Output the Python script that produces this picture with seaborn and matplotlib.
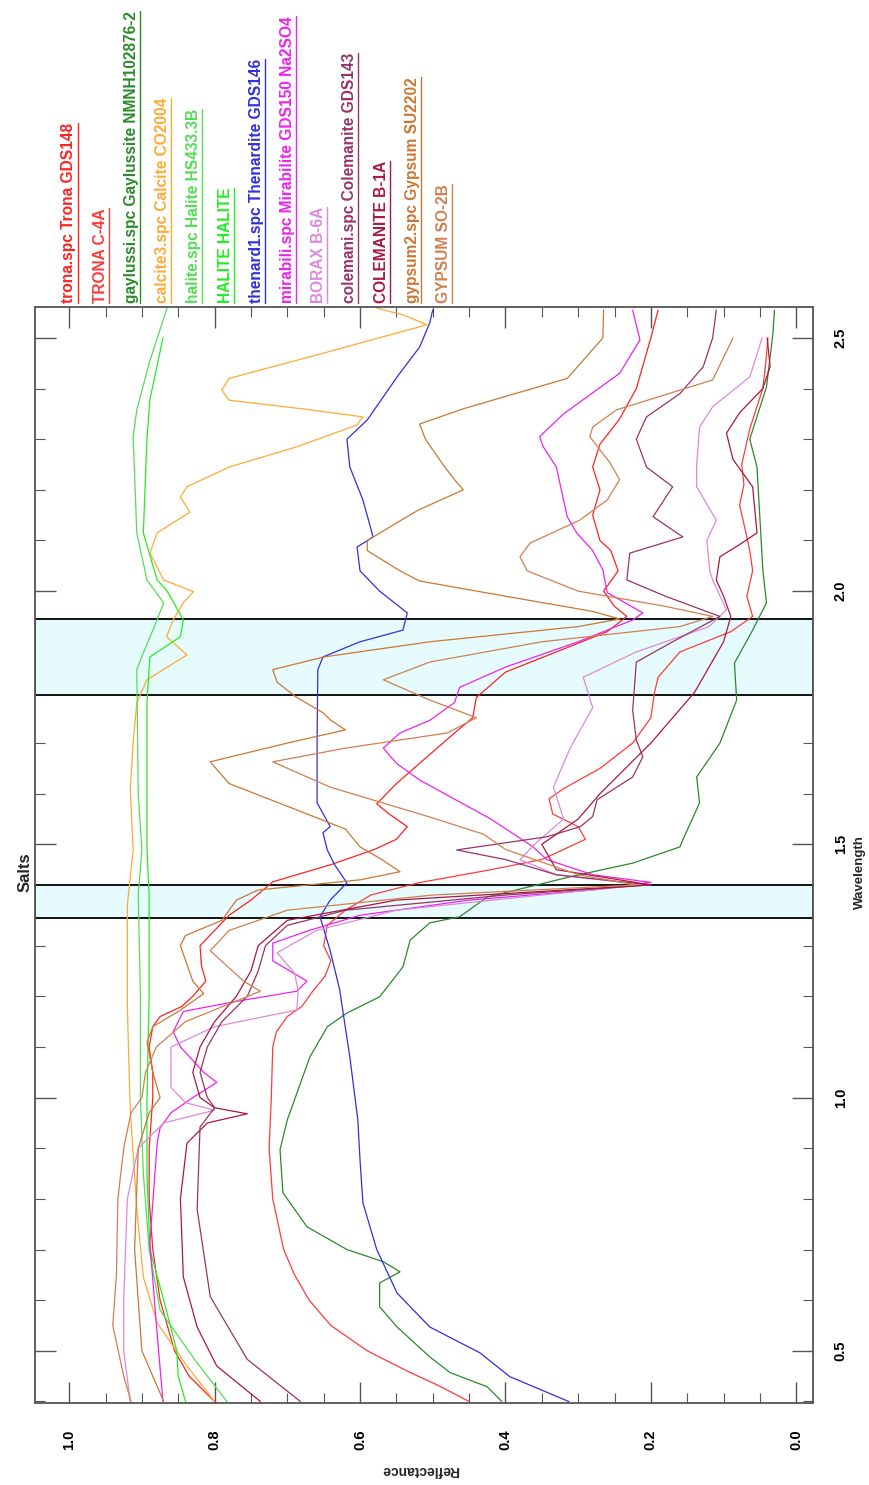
import numpy as np
import pandas as pd
import matplotlib
matplotlib.use("Agg")
import matplotlib.pyplot as plt
from matplotlib.ticker import MultipleLocator
from matplotlib.lines import Line2D
import seaborn as sns

# ---------------------------------------------------------------------------
# Reflectance spectra of salt minerals (wavelength in micrometres)
# ---------------------------------------------------------------------------
trona_gds148_wl = [0.40, 0.45, 0.50, 0.60, 0.70, 0.80, 0.90, 1.00, 1.05, 1.10,
                   1.14, 1.16, 1.18, 1.20, 1.23, 1.26, 1.30, 1.33, 1.36, 1.39,
                   1.426, 1.46, 1.49, 1.51, 1.535, 1.56, 1.58, 1.62, 1.67, 1.72,
                   1.75, 1.79, 1.84, 1.88, 1.92, 1.95, 1.97, 2.00, 2.04, 2.08,
                   2.10, 2.15, 2.20, 2.245, 2.29, 2.34, 2.40, 2.45, 2.50, 2.555]
trona_gds148_refl = [0.80, 0.835, 0.855, 0.875, 0.885, 0.89, 0.89, 0.885, 0.885, 0.89,
                     0.885, 0.875, 0.845, 0.83, 0.812, 0.818, 0.82, 0.80, 0.78, 0.75,
                     0.72, 0.64, 0.58, 0.55, 0.535, 0.56, 0.577, 0.55, 0.51, 0.47,
                     0.445, 0.44, 0.40, 0.33, 0.26, 0.233, 0.25, 0.265, 0.245, 0.255,
                     0.27, 0.28, 0.27, 0.28, 0.27, 0.243, 0.22, 0.21, 0.20, 0.19]

trona_c4a_wl = [0.40, 0.43, 0.46, 0.50, 0.55, 0.60, 0.65, 0.70, 0.80, 0.90,
                1.00, 1.10, 1.13, 1.16, 1.18, 1.21, 1.24, 1.27, 1.30, 1.34,
                1.37, 1.40, 1.424, 1.45, 1.47, 1.51, 1.535, 1.56, 1.59, 1.61,
                1.65, 1.70, 1.75, 1.80, 1.83, 1.88, 1.92, 1.95, 1.99, 2.04,
                2.08, 2.12, 2.17, 2.21, 2.25, 2.32, 2.40, 2.45, 2.50]
trona_c4a_refl = [0.45, 0.49, 0.535, 0.59, 0.64, 0.67, 0.69, 0.705, 0.72, 0.725,
                  0.722, 0.72, 0.715, 0.70, 0.68, 0.665, 0.648, 0.64, 0.65, 0.645,
                  0.62, 0.585, 0.52, 0.42, 0.35, 0.29, 0.30, 0.335, 0.34, 0.32,
                  0.27, 0.225, 0.20, 0.195, 0.19, 0.16, 0.09, 0.06, 0.068, 0.06,
                  0.064, 0.07, 0.078, 0.072, 0.075, 0.064, 0.046, 0.042, 0.039]

gaylussite_wl = [0.40, 0.429, 0.457, 0.488, 0.547, 0.587, 0.634, 0.656, 0.676, 0.70,
                 0.745, 0.812, 0.897, 0.956, 1.08, 1.14, 1.167, 1.199, 1.258, 1.311,
                 1.345, 1.357, 1.396, 1.436, 1.463, 1.495, 1.509, 1.582, 1.633, 1.70,
                 1.785, 1.858, 1.923, 1.977, 2.042, 2.245, 2.30, 2.403, 2.51, 2.555]
gaylussite_refl = [0.405, 0.425, 0.476, 0.504, 0.549, 0.573, 0.573, 0.545, 0.568, 0.618,
                   0.673, 0.706, 0.71, 0.70, 0.669, 0.645, 0.618, 0.573, 0.541, 0.531,
                   0.504, 0.463, 0.425, 0.311, 0.225, 0.16, 0.156, 0.133, 0.137, 0.105,
                   0.082, 0.085, 0.06, 0.041, 0.046, 0.054, 0.064, 0.041, 0.032, 0.03]

calcite_wl = [0.40, 0.47, 0.555, 0.646, 0.78, 0.976, 1.18, 1.38, 1.49, 1.61,
              1.70, 1.78, 1.825, 1.874, 1.91, 1.943, 1.977, 1.999, 2.022, 2.075,
              2.115, 2.156, 2.186, 2.206, 2.245, 2.285, 2.328, 2.344, 2.36, 2.377,
              2.397, 2.42, 2.47, 2.526, 2.545, 2.559]
calcite_refl = [0.80, 0.838, 0.879, 0.898, 0.907, 0.916, 0.92, 0.92, 0.912, 0.916,
                0.912, 0.907, 0.893, 0.838, 0.866, 0.857, 0.843, 0.829, 0.87, 0.889,
                0.879, 0.834, 0.847, 0.838, 0.78, 0.687, 0.604, 0.596, 0.68, 0.78,
                0.79, 0.78, 0.65, 0.508, 0.54, 0.577]

halite_hs433_wl = [0.40, 0.476, 0.58, 0.70, 0.85, 1.0, 1.2, 1.4, 1.49, 1.6,
                   1.845, 1.878, 1.94, 1.977, 2.022, 2.115, 2.305, 2.358, 2.45, 2.561]
halite_hs433_refl = [0.783, 0.824, 0.875, 0.89, 0.898, 0.902, 0.902, 0.905, 0.90, 0.905,
                     0.907, 0.898, 0.88, 0.87, 0.893, 0.907, 0.912, 0.907, 0.89, 0.865]

halite_jpl_wl = [0.40, 0.45, 0.50, 0.60, 0.70, 0.85, 1.0, 1.2, 1.4, 1.49,
                 1.78, 1.87, 1.91, 1.943, 2.002, 2.022, 2.115, 2.30, 2.378, 2.50]
halite_jpl_refl = [0.84, 0.85, 0.852, 0.87, 0.889, 0.893, 0.893, 0.89, 0.89, 0.893,
                   0.893, 0.889, 0.847, 0.843, 0.866, 0.879, 0.898, 0.893, 0.889, 0.871]

thenardite_wl = [0.40, 0.449, 0.496, 0.547, 0.614, 0.70, 0.792, 0.877, 0.956, 1.08,
                 1.213, 1.29, 1.357, 1.39, 1.424, 1.46, 1.489, 1.523, 1.535, 1.582,
                 1.712, 1.845, 1.87, 1.90, 1.923, 1.957, 2.00, 2.04, 2.087, 2.107,
                 2.18, 2.245, 2.30, 2.338, 2.423, 2.482, 2.53, 2.555]
thenardite_refl = [0.313, 0.394, 0.435, 0.504, 0.549, 0.577, 0.596, 0.60, 0.603, 0.614,
                   0.628, 0.641, 0.655, 0.641, 0.618, 0.635, 0.645, 0.651, 0.641, 0.659,
                   0.659, 0.658, 0.651, 0.60, 0.541, 0.535, 0.573, 0.60, 0.604, 0.582,
                   0.596, 0.614, 0.618, 0.59, 0.549, 0.518, 0.504, 0.50]

mirabilite_wl = [0.40, 0.55, 0.713, 0.91, 0.94, 0.97, 1.00, 1.03, 1.05, 1.10,
                 1.13, 1.17, 1.19, 1.21, 1.23, 1.27, 1.305, 1.33, 1.36, 1.39,
                 1.41, 1.425, 1.44, 1.47, 1.495, 1.55, 1.627, 1.66, 1.69, 1.72,
                 1.745, 1.78, 1.81, 1.85, 1.90, 1.943, 1.957, 1.997, 2.042, 2.08,
                 2.115, 2.147, 2.245, 2.285, 2.305, 2.35, 2.43, 2.496, 2.555]
mirabilite_refl = [0.871, 0.88, 0.889, 0.879, 0.875, 0.86, 0.83, 0.797, 0.815, 0.847,
                   0.857, 0.843, 0.77, 0.687, 0.673, 0.72, 0.72, 0.67, 0.60, 0.45,
                   0.28, 0.20, 0.28, 0.343, 0.362, 0.42, 0.518, 0.55, 0.568, 0.545,
                   0.504, 0.47, 0.463, 0.40, 0.30, 0.225, 0.211, 0.26, 0.266, 0.28,
                   0.302, 0.315, 0.33, 0.348, 0.353, 0.32, 0.243, 0.215, 0.225]

borax_wl = [0.40, 0.50, 0.60, 0.80, 0.90, 0.95, 0.975, 0.99, 1.02, 1.10,
            1.14, 1.173, 1.21, 1.246, 1.286, 1.33, 1.37, 1.40, 1.42, 1.44,
            1.47, 1.50, 1.55, 1.613, 1.69, 1.77, 1.83, 1.88, 1.93, 1.963,
            2.022, 2.04, 2.10, 2.14, 2.206, 2.25, 2.324, 2.364, 2.423, 2.50]
borax_refl = [0.916, 0.925, 0.925, 0.92, 0.905, 0.87, 0.80, 0.84, 0.86, 0.86,
              0.80, 0.687, 0.685, 0.69, 0.714, 0.66, 0.55, 0.35, 0.21, 0.33,
              0.38, 0.36, 0.32, 0.334, 0.311, 0.28, 0.293, 0.22, 0.12, 0.096,
              0.115, 0.119, 0.123, 0.11, 0.137, 0.137, 0.133, 0.115, 0.064, 0.047]

colemanite_gds143_wl = [0.40, 0.483, 0.607, 0.78, 0.942, 0.98, 1.0, 1.05, 1.10, 1.15,
                        1.20, 1.25, 1.30, 1.34, 1.37, 1.40, 1.42, 1.44, 1.47, 1.489,
                        1.515, 1.535, 1.555, 1.588, 1.633, 1.673, 1.706, 1.765, 1.86, 1.90,
                        1.95, 1.99, 2.022, 2.075, 2.107, 2.147, 2.206, 2.245, 2.30, 2.344,
                        2.39, 2.443, 2.50, 2.555]
colemanite_gds143_refl = [0.682, 0.755, 0.806, 0.824, 0.82, 0.80, 0.81, 0.82, 0.81, 0.79,
                          0.755, 0.74, 0.73, 0.70, 0.62, 0.40, 0.20, 0.33, 0.40, 0.467,
                          0.343, 0.297, 0.28, 0.274, 0.225, 0.211, 0.22, 0.225, 0.22, 0.17,
                          0.105, 0.18, 0.233, 0.229, 0.156, 0.197, 0.17, 0.206, 0.22, 0.206,
                          0.16, 0.128, 0.115, 0.11]

colemanite_b1a_wl = [0.40, 0.47, 0.547, 0.646, 0.80, 0.91, 0.95, 0.968, 0.98, 1.0,
                     1.05, 1.10, 1.15, 1.20, 1.25, 1.30, 1.35, 1.39, 1.42, 1.45,
                     1.50, 1.55, 1.60, 1.70, 1.80, 1.85, 1.90, 1.95, 1.99, 2.022,
                     2.068, 2.09, 2.115, 2.206, 2.26, 2.312, 2.352, 2.40, 2.443, 2.50]
colemanite_b1a_refl = [0.737, 0.797, 0.824, 0.843, 0.847, 0.838, 0.81, 0.755, 0.80, 0.82,
                       0.83, 0.82, 0.80, 0.77, 0.75, 0.74, 0.70, 0.55, 0.20, 0.33,
                       0.35, 0.30, 0.27, 0.20, 0.14, 0.12, 0.10, 0.09, 0.10, 0.11,
                       0.105, 0.08, 0.054, 0.06, 0.087, 0.096, 0.078, 0.046, 0.036, 0.04]

gypsum_su2202_wl = [0.40, 0.50, 0.70, 0.90, 0.97, 1.0, 1.05, 1.11, 1.14, 1.17,
                    1.205, 1.23, 1.30, 1.32, 1.35, 1.39, 1.41, 1.43, 1.446, 1.47,
                    1.495, 1.53, 1.568, 1.62, 1.663, 1.70, 1.726, 1.746, 1.76, 1.79,
                    1.82, 1.845, 1.87, 1.90, 1.93, 1.945, 1.96, 1.99, 2.02, 2.04,
                    2.08, 2.10, 2.16, 2.20, 2.22, 2.25, 2.30, 2.33, 2.36, 2.42,
                    2.50, 2.555]
gypsum_su2202_refl = [0.87, 0.90, 0.91, 0.905, 0.89, 0.875, 0.885, 0.893, 0.885, 0.85,
                      0.815, 0.83, 0.847, 0.84, 0.79, 0.77, 0.74, 0.60, 0.545, 0.57,
                      0.60, 0.62, 0.687, 0.78, 0.806, 0.70, 0.62, 0.641, 0.651, 0.687,
                      0.714, 0.72, 0.65, 0.504, 0.30, 0.243, 0.28, 0.40, 0.518, 0.545,
                      0.59, 0.59, 0.52, 0.458, 0.47, 0.486, 0.51, 0.518, 0.458, 0.315,
                      0.266, 0.265]

gypsum_so2b_wl = [0.40, 0.45, 0.55, 0.65, 0.80, 0.90, 0.97, 1.0, 1.05, 1.10,
                  1.15, 1.21, 1.23, 1.29, 1.33, 1.37, 1.40, 1.42, 1.44, 1.47,
                  1.49, 1.52, 1.554, 1.613, 1.663, 1.69, 1.72, 1.75, 1.785, 1.825,
                  1.86, 1.90, 1.93, 1.95, 1.97, 2.0, 2.04, 2.068, 2.095, 2.14,
                  2.18, 2.22, 2.253, 2.305, 2.324, 2.358, 2.417, 2.50]
gypsum_so2b_refl = [0.915, 0.925, 0.94, 0.935, 0.933, 0.925, 0.915, 0.90, 0.895, 0.88,
                    0.84, 0.737, 0.76, 0.806, 0.78, 0.70, 0.50, 0.22, 0.30, 0.36,
                    0.40, 0.43, 0.504, 0.641, 0.72, 0.62, 0.48, 0.44, 0.504, 0.568,
                    0.504, 0.35, 0.16, 0.115, 0.18, 0.30, 0.37, 0.38, 0.366, 0.298,
                    0.26, 0.243, 0.256, 0.284, 0.28, 0.247, 0.115, 0.087]

spectra = [
    ("trona.spc Trona GDS148", "#ff2222", trona_gds148_wl, trona_gds148_refl),
    ("TRONA C-4A", "#ff3a3a", trona_c4a_wl, trona_c4a_refl),
    ("gaylussi.spc Gaylussite NMNH102876-2", "#2a8a2a", gaylussite_wl, gaylussite_refl),
    ("calcite3.spc Calcite CO2004", "#ffaa33", calcite_wl, calcite_refl),
    ("halite.spc Halite HS433.3B", "#55dd55", halite_hs433_wl, halite_hs433_refl),
    ("HALITE HALITE", "#22ee22", halite_jpl_wl, halite_jpl_refl),
    ("thenard1.spc Thenardite GDS146", "#3030dd", thenardite_wl, thenardite_refl),
    ("mirabili.spc Mirabilite GDS150 Na2SO4", "#ee22ee", mirabilite_wl, mirabilite_refl),
    ("BORAX B-6A", "#dd88dd", borax_wl, borax_refl),
    ("colemani.spc Colemanite GDS143", "#993366", colemanite_gds143_wl, colemanite_gds143_refl),
    ("COLEMANITE B-1A", "#aa1840", colemanite_b1a_wl, colemanite_b1a_refl),
    ("gypsum2.spc Gypsum SU2202", "#cc7733", gypsum_su2202_wl, gypsum_su2202_refl),
    ("GYPSUM SO-2B", "#cf8050", gypsum_so2b_wl, gypsum_so2b_refl),
]

# water absorption windows
absorption_windows = [(1.355, 1.42), (1.795, 1.945)]

refl_ticks = [0.0, 0.2, 0.4, 0.6, 0.8, 1.0]
refl_tick_labels = ["0.0", "0.2", "0.4", "0.6", "0.8", "1.0"]
wl_ticks = [0.5, 1.0, 1.5, 2.0, 2.5]
wl_tick_labels = ["0.5", "1.0", "1.5", "2.0", "2.5"]

# ---------------------------------------------------------------------------
sns.set_theme(style="white")
plt.rcParams["font.family"] = ["Liberation Sans", "DejaVu Sans"]

W, H = 869, 1485
fig = plt.figure(figsize=(W / 100, H / 100), dpi=100)
ax = fig.add_axes([35 / W, (H - 1403) / H, (813 - 35) / W, (1403 - 307) / H])

for lo, hi in absorption_windows:
    ax.axhspan(lo, hi, facecolor="#e6fbfd", edgecolor="black", lw=1.3, zorder=1)

for label, color, wl, refl in spectra:
    df = pd.DataFrame({"Reflectance": refl, "Wavelength": wl})
    sns.lineplot(data=df, x="Reflectance", y="Wavelength", sort=False,
                 estimator=None, color=color, lw=0.9, ax=ax, zorder=2)

ax.set_xlim(1.047, -0.023)
ax.set_ylim(0.397, 2.561)

ax.set_xticks(refl_ticks, labels=refl_tick_labels, rotation=90,
              fontweight="bold", fontsize=10.5)
ax.set_yticks(wl_ticks, labels=wl_tick_labels, rotation=90, va="center",
              fontweight="bold", fontsize=10.5)
ax.xaxis.set_minor_locator(MultipleLocator(0.05))
ax.yaxis.set_minor_locator(MultipleLocator(0.1))
ax.tick_params(which="both", direction="in", top=True, bottom=True,
               left=True, right=True, labelleft=False, labelright=True,
               color="#555555", labelcolor="black")
ax.tick_params(which="major", length=15, width=1.0)
ax.tick_params(which="minor", length=7, width=0.8)
ax.tick_params(axis="x", which="major", pad=19)
ax.tick_params(axis="y", which="major", pad=15)
for s in ax.spines.values():
    s.set_color("#555555")
    s.set_linewidth(1.3)

ax.set_xlabel("Reflectance", rotation=180, fontweight="bold", fontsize=10,
              va="center", ha="center")
ax.xaxis.set_label_coords((420 - 35) / 778, (1403 - 1470) / 1096)
ax.yaxis.set_label_position("right")
ax.set_ylabel("Wavelength", rotation=90, fontweight="bold", fontsize=9.5,
              va="center", ha="center")
ax.yaxis.set_label_coords((860 - 35) / 778, (1403 - 872) / 1096)

ax.text((25 - 35) / 778, (1403 - 872) / 1096, "Salts", rotation=90,
        transform=ax.transAxes, ha="center", va="center",
        fontsize=12, fontweight="bold")

# legend: one underlined entry per spectrum along the top
legend_texts = []
for i, (label, color, wl, refl) in enumerate(spectra):
    xc = (69 + 31.2 * i) / W
    t = fig.text(xc, (H - 303) / H, label, rotation=90, ha="center",
                 va="bottom", color=color, fontsize=11.2, fontweight="bold")
    legend_texts.append((t, color))

fig.canvas.draw()
renderer = fig.canvas.get_renderer()
for t, color in legend_texts:
    bb = t.get_window_extent(renderer)
    xu = bb.x1 + 1
    fig.add_artist(Line2D([xu / W, xu / W], [bb.y0 / H, bb.y1 / H],
                          transform=fig.transFigure, color=color, lw=1.0))

fig.savefig("out.png", dpi=100)
